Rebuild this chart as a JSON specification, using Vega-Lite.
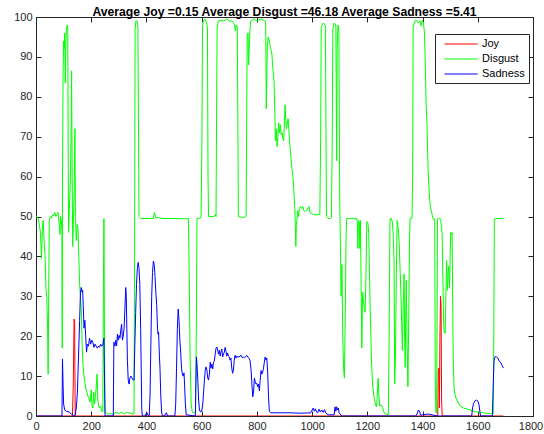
{
  "$schema": "https://vega.github.io/schema/vega-lite/v6.json",
  "width": 497,
  "height": 399,
  "autosize": "none",
  "padding": {"left": 36, "top": 17, "right": 11, "bottom": 18},
  "background": "white",
  "title": {"text": "Average Joy =0.15 Average Disgust =46.18 Average Sadness =5.41", "fontSize": 12.2, "fontWeight": "bold", "font": "Liberation Sans", "color": "#000000", "anchor": "middle", "frame": "group", "offset": -7},
  "config": {
    "view": {"stroke": "#262626", "strokeWidth": 1},
    "axis": {"grid": false, "title": null, "tickSize": -5, "tickColor": "#262626", "domainColor": "#262626", "labelFont": "Liberation Sans", "labelFontSize": 11, "labelColor": "#262626", "format": "d", "labelFlush": false}
  },
  "data": {"values": [
      {"s":"Joy","x":0,"y":0},{"s":"Joy","x":132,"y":0},{"s":"Joy","x":135,"y":8},{"s":"Joy","x":138,"y":24.3},{"s":"Joy","x":140,"y":23},{"s":"Joy","x":142,"y":0},{"s":"Joy","x":1455,"y":0},{"s":"Joy","x":1457,"y":11.5},{"s":"Joy","x":1459,"y":12},{"s":"Joy","x":1461,"y":2},{"s":"Joy","x":1463,"y":20},{"s":"Joy","x":1465,"y":30},{"s":"Joy","x":1467,"y":28},{"s":"Joy","x":1469,"y":4},{"s":"Joy","x":1471,"y":0},{"s":"Joy","x":1693,"y":0},
      {"s":"Disgust","x":0,"y":50},{"s":"Disgust","x":4,"y":50},{"s":"Disgust","x":8,"y":49.5},{"s":"Disgust","x":12,"y":48},{"s":"Disgust","x":16,"y":46},{"s":"Disgust","x":20,"y":39.5},{"s":"Disgust","x":23,"y":47},{"s":"Disgust","x":26,"y":49},{"s":"Disgust","x":30,"y":43},{"s":"Disgust","x":33,"y":40},{"s":"Disgust","x":36,"y":32},{"s":"Disgust","x":39,"y":30},{"s":"Disgust","x":42,"y":22},{"s":"Disgust","x":44,"y":10.5},{"s":"Disgust","x":46,"y":30},{"s":"Disgust","x":48,"y":49},{"s":"Disgust","x":52,"y":50},{"s":"Disgust","x":56,"y":49.6},{"s":"Disgust","x":60,"y":50.5},{"s":"Disgust","x":64,"y":50.2},{"s":"Disgust","x":68,"y":51},{"s":"Disgust","x":72,"y":50},{"s":"Disgust","x":76,"y":50.5},{"s":"Disgust","x":80,"y":51},{"s":"Disgust","x":84,"y":48},{"s":"Disgust","x":87,"y":45.5},{"s":"Disgust","x":89,"y":50},{"s":"Disgust","x":92,"y":49},{"s":"Disgust","x":94,"y":46},{"s":"Disgust","x":95,"y":17},{"s":"Disgust","x":96,"y":60},{"s":"Disgust","x":98,"y":85},{"s":"Disgust","x":100,"y":94},{"s":"Disgust","x":102,"y":92},{"s":"Disgust","x":104,"y":96},{"s":"Disgust","x":106,"y":83.5},{"s":"Disgust","x":108,"y":94},{"s":"Disgust","x":110,"y":96.5},{"s":"Disgust","x":113,"y":98},{"s":"Disgust","x":115,"y":97},{"s":"Disgust","x":117,"y":60},{"s":"Disgust","x":118,"y":46},{"s":"Disgust","x":121,"y":52},{"s":"Disgust","x":124,"y":58},{"s":"Disgust","x":127,"y":70},{"s":"Disgust","x":129,"y":86.5},{"s":"Disgust","x":131,"y":60},{"s":"Disgust","x":133,"y":42.5},{"s":"Disgust","x":135,"y":48},{"s":"Disgust","x":138,"y":55},{"s":"Disgust","x":141,"y":72},{"s":"Disgust","x":143,"y":50},{"s":"Disgust","x":146,"y":44},{"s":"Disgust","x":149,"y":48},{"s":"Disgust","x":152,"y":47},{"s":"Disgust","x":155,"y":40},{"s":"Disgust","x":158,"y":33},{"s":"Disgust","x":161,"y":30},{"s":"Disgust","x":164,"y":27},{"s":"Disgust","x":167,"y":18},{"s":"Disgust","x":170,"y":13},{"s":"Disgust","x":173,"y":10.5},{"s":"Disgust","x":176,"y":9},{"s":"Disgust","x":180,"y":7},{"s":"Disgust","x":184,"y":6},{"s":"Disgust","x":188,"y":5},{"s":"Disgust","x":192,"y":4.5},{"s":"Disgust","x":196,"y":3.5},{"s":"Disgust","x":200,"y":6.5},{"s":"Disgust","x":203,"y":2.5},{"s":"Disgust","x":206,"y":2},{"s":"Disgust","x":209,"y":6},{"s":"Disgust","x":212,"y":3},{"s":"Disgust","x":215,"y":5},{"s":"Disgust","x":218,"y":7},{"s":"Disgust","x":221,"y":10.5},{"s":"Disgust","x":224,"y":4},{"s":"Disgust","x":227,"y":2.5},{"s":"Disgust","x":230,"y":2},{"s":"Disgust","x":234,"y":2.5},{"s":"Disgust","x":238,"y":1.2},{"s":"Disgust","x":242,"y":1},{"s":"Disgust","x":244,"y":30},{"s":"Disgust","x":246,"y":49.5},{"s":"Disgust","x":248,"y":20},{"s":"Disgust","x":250,"y":1},{"s":"Disgust","x":254,"y":0.8},{"s":"Disgust","x":260,"y":0.5},{"s":"Disgust","x":270,"y":0.6},{"s":"Disgust","x":280,"y":0.4},{"s":"Disgust","x":290,"y":1},{"s":"Disgust","x":300,"y":0.6},{"s":"Disgust","x":310,"y":0.9},{"s":"Disgust","x":320,"y":0.5},{"s":"Disgust","x":330,"y":1},{"s":"Disgust","x":340,"y":0.7},{"s":"Disgust","x":350,"y":0.5},{"s":"Disgust","x":355,"y":0.5},{"s":"Disgust","x":357,"y":40},{"s":"Disgust","x":359,"y":97},{"s":"Disgust","x":362,"y":99},{"s":"Disgust","x":366,"y":99},{"s":"Disgust","x":369,"y":97.5},{"s":"Disgust","x":371,"y":75},{"s":"Disgust","x":373,"y":50},{"s":"Disgust","x":380,"y":49.5},{"s":"Disgust","x":400,"y":49.5},{"s":"Disgust","x":425,"y":49.5},{"s":"Disgust","x":429,"y":51},{"s":"Disgust","x":433,"y":49.8},{"s":"Disgust","x":460,"y":49.5},{"s":"Disgust","x":500,"y":49.5},{"s":"Disgust","x":540,"y":49.4},{"s":"Disgust","x":552,"y":49.5},{"s":"Disgust","x":555,"y":35},{"s":"Disgust","x":558,"y":15},{"s":"Disgust","x":562,"y":3},{"s":"Disgust","x":566,"y":1},{"s":"Disgust","x":574,"y":0.8},{"s":"Disgust","x":578,"y":1},{"s":"Disgust","x":581,"y":25},{"s":"Disgust","x":583,"y":49.5},{"s":"Disgust","x":590,"y":49.5},{"s":"Disgust","x":598,"y":49.8},{"s":"Disgust","x":601,"y":70},{"s":"Disgust","x":603,"y":97.5},{"s":"Disgust","x":606,"y":99},{"s":"Disgust","x":612,"y":99.5},{"s":"Disgust","x":618,"y":98.5},{"s":"Disgust","x":621,"y":97},{"s":"Disgust","x":623,"y":60},{"s":"Disgust","x":625,"y":50},{"s":"Disgust","x":635,"y":50},{"s":"Disgust","x":645,"y":50},{"s":"Disgust","x":650,"y":50.5},{"s":"Disgust","x":652,"y":50},{"s":"Disgust","x":654,"y":75},{"s":"Disgust","x":656,"y":97},{"s":"Disgust","x":660,"y":99},{"s":"Disgust","x":670,"y":99.2},{"s":"Disgust","x":680,"y":99},{"s":"Disgust","x":690,"y":99.5},{"s":"Disgust","x":700,"y":99},{"s":"Disgust","x":710,"y":99},{"s":"Disgust","x":715,"y":98.5},{"s":"Disgust","x":719,"y":98},{"s":"Disgust","x":722,"y":96.5},{"s":"Disgust","x":725,"y":98},{"s":"Disgust","x":729,"y":97.5},{"s":"Disgust","x":731,"y":75},{"s":"Disgust","x":733,"y":50},{"s":"Disgust","x":745,"y":49.8},{"s":"Disgust","x":755,"y":49.8},{"s":"Disgust","x":761,"y":50},{"s":"Disgust","x":763,"y":75},{"s":"Disgust","x":765,"y":95.5},{"s":"Disgust","x":768,"y":96},{"s":"Disgust","x":770,"y":88},{"s":"Disgust","x":772,"y":92},{"s":"Disgust","x":775,"y":97},{"s":"Disgust","x":778,"y":99},{"s":"Disgust","x":790,"y":99.5},{"s":"Disgust","x":800,"y":99},{"s":"Disgust","x":815,"y":99.5},{"s":"Disgust","x":830,"y":99},{"s":"Disgust","x":832,"y":98},{"s":"Disgust","x":834,"y":77},{"s":"Disgust","x":836,"y":85},{"s":"Disgust","x":838,"y":93},{"s":"Disgust","x":841,"y":95},{"s":"Disgust","x":845,"y":94},{"s":"Disgust","x":850,"y":92},{"s":"Disgust","x":854,"y":91},{"s":"Disgust","x":858,"y":87},{"s":"Disgust","x":862,"y":84},{"s":"Disgust","x":865,"y":76},{"s":"Disgust","x":867,"y":69},{"s":"Disgust","x":870,"y":72},{"s":"Disgust","x":873,"y":67.5},{"s":"Disgust","x":876,"y":70},{"s":"Disgust","x":879,"y":73.5},{"s":"Disgust","x":882,"y":71},{"s":"Disgust","x":885,"y":73},{"s":"Disgust","x":888,"y":70.5},{"s":"Disgust","x":891,"y":71},{"s":"Disgust","x":894,"y":69.5},{"s":"Disgust","x":897,"y":69},{"s":"Disgust","x":900,"y":74},{"s":"Disgust","x":902,"y":78},{"s":"Disgust","x":905,"y":74},{"s":"Disgust","x":907,"y":72},{"s":"Disgust","x":910,"y":73},{"s":"Disgust","x":913,"y":74.5},{"s":"Disgust","x":916,"y":71.5},{"s":"Disgust","x":919,"y":68},{"s":"Disgust","x":922,"y":66},{"s":"Disgust","x":927,"y":62},{"s":"Disgust","x":932,"y":59},{"s":"Disgust","x":935,"y":55},{"s":"Disgust","x":938,"y":51},{"s":"Disgust","x":940,"y":45},{"s":"Disgust","x":941,"y":42.5},{"s":"Disgust","x":943,"y":48},{"s":"Disgust","x":945,"y":49},{"s":"Disgust","x":948,"y":51.5},{"s":"Disgust","x":951,"y":50},{"s":"Disgust","x":954,"y":52},{"s":"Disgust","x":958,"y":52.5},{"s":"Disgust","x":962,"y":52},{"s":"Disgust","x":966,"y":52.5},{"s":"Disgust","x":970,"y":51.5},{"s":"Disgust","x":974,"y":51.2},{"s":"Disgust","x":978,"y":51.5},{"s":"Disgust","x":982,"y":51.6},{"s":"Disgust","x":986,"y":52.3},{"s":"Disgust","x":989,"y":52.5},{"s":"Disgust","x":992,"y":51},{"s":"Disgust","x":997,"y":50.8},{"s":"Disgust","x":1005,"y":50.5},{"s":"Disgust","x":1015,"y":50.4},{"s":"Disgust","x":1028,"y":50.5},{"s":"Disgust","x":1031,"y":70},{"s":"Disgust","x":1033,"y":97.5},{"s":"Disgust","x":1040,"y":98.5},{"s":"Disgust","x":1048,"y":98},{"s":"Disgust","x":1050,"y":75},{"s":"Disgust","x":1052,"y":50},{"s":"Disgust","x":1058,"y":49.5},{"s":"Disgust","x":1066,"y":49.5},{"s":"Disgust","x":1070,"y":49.8},{"s":"Disgust","x":1073,"y":70},{"s":"Disgust","x":1075,"y":97},{"s":"Disgust","x":1080,"y":98.5},{"s":"Disgust","x":1086,"y":98},{"s":"Disgust","x":1089,"y":64},{"s":"Disgust","x":1091,"y":93},{"s":"Disgust","x":1094,"y":98},{"s":"Disgust","x":1097,"y":96},{"s":"Disgust","x":1100,"y":54},{"s":"Disgust","x":1103,"y":40},{"s":"Disgust","x":1105,"y":30},{"s":"Disgust","x":1108,"y":38},{"s":"Disgust","x":1111,"y":20},{"s":"Disgust","x":1114,"y":12},{"s":"Disgust","x":1117,"y":9.5},{"s":"Disgust","x":1120,"y":25},{"s":"Disgust","x":1123,"y":45},{"s":"Disgust","x":1125,"y":49.5},{"s":"Disgust","x":1135,"y":49.5},{"s":"Disgust","x":1145,"y":49.6},{"s":"Disgust","x":1155,"y":49.4},{"s":"Disgust","x":1162,"y":49.5},{"s":"Disgust","x":1164,"y":48},{"s":"Disgust","x":1166,"y":42},{"s":"Disgust","x":1168,"y":49},{"s":"Disgust","x":1171,"y":48.5},{"s":"Disgust","x":1173,"y":42},{"s":"Disgust","x":1175,"y":49},{"s":"Disgust","x":1178,"y":30},{"s":"Disgust","x":1180,"y":17},{"s":"Disgust","x":1183,"y":31},{"s":"Disgust","x":1186,"y":29},{"s":"Disgust","x":1189,"y":27},{"s":"Disgust","x":1192,"y":26},{"s":"Disgust","x":1195,"y":35},{"s":"Disgust","x":1198,"y":48.7},{"s":"Disgust","x":1202,"y":48.5},{"s":"Disgust","x":1205,"y":46},{"s":"Disgust","x":1208,"y":35},{"s":"Disgust","x":1211,"y":25},{"s":"Disgust","x":1215,"y":14},{"s":"Disgust","x":1219,"y":8},{"s":"Disgust","x":1224,"y":4.8},{"s":"Disgust","x":1229,"y":3},{"s":"Disgust","x":1233,"y":2.3},{"s":"Disgust","x":1236,"y":5},{"s":"Disgust","x":1239,"y":9.5},{"s":"Disgust","x":1242,"y":5},{"s":"Disgust","x":1245,"y":2.5},{"s":"Disgust","x":1250,"y":2.8},{"s":"Disgust","x":1255,"y":2.2},{"s":"Disgust","x":1260,"y":1},{"s":"Disgust","x":1265,"y":0.5},{"s":"Disgust","x":1276,"y":0.3},{"s":"Disgust","x":1279,"y":20},{"s":"Disgust","x":1282,"y":49.4},{"s":"Disgust","x":1287,"y":49.5},{"s":"Disgust","x":1291,"y":48.5},{"s":"Disgust","x":1294,"y":45},{"s":"Disgust","x":1297,"y":38},{"s":"Disgust","x":1299,"y":8},{"s":"Disgust","x":1302,"y":15},{"s":"Disgust","x":1305,"y":35},{"s":"Disgust","x":1308,"y":49},{"s":"Disgust","x":1312,"y":47},{"s":"Disgust","x":1315,"y":44},{"s":"Disgust","x":1318,"y":38},{"s":"Disgust","x":1321,"y":32},{"s":"Disgust","x":1324,"y":24},{"s":"Disgust","x":1327,"y":16.4},{"s":"Disgust","x":1330,"y":28},{"s":"Disgust","x":1333,"y":35.6},{"s":"Disgust","x":1335,"y":20},{"s":"Disgust","x":1337,"y":12.2},{"s":"Disgust","x":1339,"y":25},{"s":"Disgust","x":1341,"y":34},{"s":"Disgust","x":1344,"y":18},{"s":"Disgust","x":1347,"y":7.3},{"s":"Disgust","x":1350,"y":25},{"s":"Disgust","x":1353,"y":45},{"s":"Disgust","x":1355,"y":49.6},{"s":"Disgust","x":1362,"y":49.6},{"s":"Disgust","x":1364,"y":60},{"s":"Disgust","x":1366,"y":97.5},{"s":"Disgust","x":1370,"y":98.5},{"s":"Disgust","x":1375,"y":99.2},{"s":"Disgust","x":1380,"y":99},{"s":"Disgust","x":1385,"y":98.5},{"s":"Disgust","x":1390,"y":99},{"s":"Disgust","x":1395,"y":97.8},{"s":"Disgust","x":1399,"y":99.2},{"s":"Disgust","x":1403,"y":98.5},{"s":"Disgust","x":1407,"y":96},{"s":"Disgust","x":1410,"y":88},{"s":"Disgust","x":1413,"y":78},{"s":"Disgust","x":1416,"y":73},{"s":"Disgust","x":1420,"y":62},{"s":"Disgust","x":1424,"y":56},{"s":"Disgust","x":1428,"y":52.5},{"s":"Disgust","x":1433,"y":51},{"s":"Disgust","x":1438,"y":49.4},{"s":"Disgust","x":1444,"y":49.4},{"s":"Disgust","x":1446,"y":10},{"s":"Disgust","x":1448,"y":1},{"s":"Disgust","x":1451,"y":0.7},{"s":"Disgust","x":1453,"y":30},{"s":"Disgust","x":1454,"y":49.4},{"s":"Disgust","x":1458,"y":49.5},{"s":"Disgust","x":1462,"y":49.6},{"s":"Disgust","x":1466,"y":49},{"s":"Disgust","x":1469,"y":47},{"s":"Disgust","x":1471,"y":45.6},{"s":"Disgust","x":1474,"y":33},{"s":"Disgust","x":1476,"y":24},{"s":"Disgust","x":1478,"y":21},{"s":"Disgust","x":1482,"y":20.7},{"s":"Disgust","x":1485,"y":32},{"s":"Disgust","x":1487,"y":39},{"s":"Disgust","x":1490,"y":31.5},{"s":"Disgust","x":1493,"y":36},{"s":"Disgust","x":1495,"y":37.5},{"s":"Disgust","x":1498,"y":32},{"s":"Disgust","x":1500,"y":40},{"s":"Disgust","x":1502,"y":46},{"s":"Disgust","x":1505,"y":45.5},{"s":"Disgust","x":1507,"y":46},{"s":"Disgust","x":1509,"y":30},{"s":"Disgust","x":1510,"y":20.8},{"s":"Disgust","x":1512,"y":12},{"s":"Disgust","x":1514,"y":7.3},{"s":"Disgust","x":1517,"y":5.5},{"s":"Disgust","x":1521,"y":4.5},{"s":"Disgust","x":1528,"y":3.5},{"s":"Disgust","x":1536,"y":2.5},{"s":"Disgust","x":1548,"y":2},{"s":"Disgust","x":1560,"y":1.8},{"s":"Disgust","x":1572,"y":1.5},{"s":"Disgust","x":1584,"y":1.2},{"s":"Disgust","x":1596,"y":1},{"s":"Disgust","x":1608,"y":0.9},{"s":"Disgust","x":1620,"y":0.8},{"s":"Disgust","x":1632,"y":0.7},{"s":"Disgust","x":1645,"y":0.6},{"s":"Disgust","x":1656,"y":0.6},{"s":"Disgust","x":1658,"y":20},{"s":"Disgust","x":1660,"y":49.4},{"s":"Disgust","x":1670,"y":49.5},{"s":"Disgust","x":1680,"y":49.5},{"s":"Disgust","x":1693,"y":49.6},
      {"s":"Sadness","x":0,"y":0},{"s":"Sadness","x":94,"y":0},{"s":"Sadness","x":96,"y":14.3},{"s":"Sadness","x":98,"y":8},{"s":"Sadness","x":100,"y":3},{"s":"Sadness","x":104,"y":1.5},{"s":"Sadness","x":110,"y":1.2},{"s":"Sadness","x":120,"y":1},{"s":"Sadness","x":128,"y":0.5},{"s":"Sadness","x":134,"y":0.3},{"s":"Sadness","x":138,"y":0},{"s":"Sadness","x":142,"y":0.3},{"s":"Sadness","x":146,"y":2},{"s":"Sadness","x":150,"y":6},{"s":"Sadness","x":154,"y":15},{"s":"Sadness","x":158,"y":24},{"s":"Sadness","x":161,"y":31},{"s":"Sadness","x":164,"y":32.2},{"s":"Sadness","x":167,"y":31},{"s":"Sadness","x":169,"y":31.5},{"s":"Sadness","x":171,"y":28},{"s":"Sadness","x":174,"y":22},{"s":"Sadness","x":177,"y":24},{"s":"Sadness","x":180,"y":20},{"s":"Sadness","x":183,"y":16},{"s":"Sadness","x":186,"y":18},{"s":"Sadness","x":190,"y":17.5},{"s":"Sadness","x":194,"y":19.5},{"s":"Sadness","x":198,"y":18},{"s":"Sadness","x":202,"y":19},{"s":"Sadness","x":206,"y":18.5},{"s":"Sadness","x":210,"y":17.2},{"s":"Sadness","x":214,"y":18},{"s":"Sadness","x":218,"y":17.5},{"s":"Sadness","x":222,"y":17},{"s":"Sadness","x":226,"y":17.5},{"s":"Sadness","x":230,"y":17.2},{"s":"Sadness","x":234,"y":18},{"s":"Sadness","x":238,"y":17.5},{"s":"Sadness","x":242,"y":17.8},{"s":"Sadness","x":246,"y":19.5},{"s":"Sadness","x":248,"y":10},{"s":"Sadness","x":250,"y":0},{"s":"Sadness","x":280,"y":0},{"s":"Sadness","x":282,"y":18.5},{"s":"Sadness","x":286,"y":17.5},{"s":"Sadness","x":289,"y":19},{"s":"Sadness","x":292,"y":17.6},{"s":"Sadness","x":295,"y":20.5},{"s":"Sadness","x":298,"y":19},{"s":"Sadness","x":301,"y":20.2},{"s":"Sadness","x":304,"y":19.5},{"s":"Sadness","x":307,"y":21.5},{"s":"Sadness","x":310,"y":23},{"s":"Sadness","x":313,"y":19},{"s":"Sadness","x":316,"y":20},{"s":"Sadness","x":319,"y":22},{"s":"Sadness","x":322,"y":27},{"s":"Sadness","x":325,"y":32.2},{"s":"Sadness","x":327,"y":30},{"s":"Sadness","x":329,"y":22},{"s":"Sadness","x":331,"y":14},{"s":"Sadness","x":334,"y":9},{"s":"Sadness","x":337,"y":8},{"s":"Sadness","x":340,"y":9.5},{"s":"Sadness","x":344,"y":10},{"s":"Sadness","x":348,"y":9.5},{"s":"Sadness","x":352,"y":9},{"s":"Sadness","x":355,"y":9},{"s":"Sadness","x":358,"y":18},{"s":"Sadness","x":361,"y":26},{"s":"Sadness","x":364,"y":33},{"s":"Sadness","x":367,"y":37},{"s":"Sadness","x":370,"y":38.5},{"s":"Sadness","x":373,"y":37},{"s":"Sadness","x":376,"y":33},{"s":"Sadness","x":379,"y":22},{"s":"Sadness","x":381,"y":12},{"s":"Sadness","x":383,"y":2},{"s":"Sadness","x":385,"y":0},{"s":"Sadness","x":395,"y":0},{"s":"Sadness","x":398,"y":0.5},{"s":"Sadness","x":402,"y":0.8},{"s":"Sadness","x":405,"y":0.3},{"s":"Sadness","x":410,"y":0},{"s":"Sadness","x":413,"y":5},{"s":"Sadness","x":416,"y":18},{"s":"Sadness","x":419,"y":30},{"s":"Sadness","x":422,"y":36},{"s":"Sadness","x":425,"y":38.8},{"s":"Sadness","x":428,"y":38},{"s":"Sadness","x":431,"y":35},{"s":"Sadness","x":434,"y":31},{"s":"Sadness","x":437,"y":28},{"s":"Sadness","x":440,"y":22},{"s":"Sadness","x":442,"y":20.5},{"s":"Sadness","x":444,"y":21},{"s":"Sadness","x":447,"y":15},{"s":"Sadness","x":449,"y":12},{"s":"Sadness","x":452,"y":5},{"s":"Sadness","x":455,"y":1},{"s":"Sadness","x":458,"y":0},{"s":"Sadness","x":466,"y":0},{"s":"Sadness","x":469,"y":0.6},{"s":"Sadness","x":473,"y":0.8},{"s":"Sadness","x":476,"y":0},{"s":"Sadness","x":503,"y":0},{"s":"Sadness","x":506,"y":3},{"s":"Sadness","x":509,"y":12},{"s":"Sadness","x":512,"y":22},{"s":"Sadness","x":515,"y":26.8},{"s":"Sadness","x":518,"y":24},{"s":"Sadness","x":521,"y":19},{"s":"Sadness","x":524,"y":16},{"s":"Sadness","x":527,"y":12},{"s":"Sadness","x":530,"y":10.5},{"s":"Sadness","x":533,"y":10},{"s":"Sadness","x":536,"y":10.8},{"s":"Sadness","x":538,"y":8},{"s":"Sadness","x":541,"y":3},{"s":"Sadness","x":544,"y":0.3},{"s":"Sadness","x":577,"y":0},{"s":"Sadness","x":579,"y":8},{"s":"Sadness","x":581,"y":14.8},{"s":"Sadness","x":583,"y":13},{"s":"Sadness","x":586,"y":9},{"s":"Sadness","x":589,"y":4},{"s":"Sadness","x":592,"y":1.5},{"s":"Sadness","x":596,"y":1},{"s":"Sadness","x":600,"y":1.2},{"s":"Sadness","x":604,"y":3},{"s":"Sadness","x":607,"y":6},{"s":"Sadness","x":610,"y":9},{"s":"Sadness","x":613,"y":11.5},{"s":"Sadness","x":616,"y":12.3},{"s":"Sadness","x":619,"y":11.5},{"s":"Sadness","x":622,"y":9.5},{"s":"Sadness","x":625,"y":9},{"s":"Sadness","x":628,"y":10.5},{"s":"Sadness","x":631,"y":13.5},{"s":"Sadness","x":634,"y":12},{"s":"Sadness","x":637,"y":13},{"s":"Sadness","x":640,"y":11.8},{"s":"Sadness","x":643,"y":13.5},{"s":"Sadness","x":646,"y":13.8},{"s":"Sadness","x":649,"y":15.5},{"s":"Sadness","x":652,"y":17},{"s":"Sadness","x":655,"y":17.3},{"s":"Sadness","x":658,"y":16.5},{"s":"Sadness","x":661,"y":15.5},{"s":"Sadness","x":664,"y":16.5},{"s":"Sadness","x":667,"y":15},{"s":"Sadness","x":670,"y":16},{"s":"Sadness","x":673,"y":16.8},{"s":"Sadness","x":676,"y":14.8},{"s":"Sadness","x":679,"y":15.5},{"s":"Sadness","x":682,"y":16},{"s":"Sadness","x":685,"y":17.2},{"s":"Sadness","x":688,"y":16.2},{"s":"Sadness","x":691,"y":15},{"s":"Sadness","x":694,"y":15.8},{"s":"Sadness","x":697,"y":15},{"s":"Sadness","x":700,"y":14.8},{"s":"Sadness","x":703,"y":14},{"s":"Sadness","x":706,"y":14.5},{"s":"Sadness","x":709,"y":12},{"s":"Sadness","x":712,"y":10.7},{"s":"Sadness","x":715,"y":11.5},{"s":"Sadness","x":718,"y":14},{"s":"Sadness","x":721,"y":15.2},{"s":"Sadness","x":724,"y":14.5},{"s":"Sadness","x":727,"y":15},{"s":"Sadness","x":731,"y":14.8},{"s":"Sadness","x":735,"y":14.8},{"s":"Sadness","x":739,"y":15},{"s":"Sadness","x":743,"y":15.2},{"s":"Sadness","x":747,"y":14.6},{"s":"Sadness","x":751,"y":14.8},{"s":"Sadness","x":755,"y":14.6},{"s":"Sadness","x":759,"y":14.8},{"s":"Sadness","x":763,"y":15.2},{"s":"Sadness","x":767,"y":14.8},{"s":"Sadness","x":771,"y":14.5},{"s":"Sadness","x":775,"y":14},{"s":"Sadness","x":779,"y":11.5},{"s":"Sadness","x":782,"y":8},{"s":"Sadness","x":785,"y":4.8},{"s":"Sadness","x":788,"y":6},{"s":"Sadness","x":791,"y":9.5},{"s":"Sadness","x":794,"y":8.5},{"s":"Sadness","x":797,"y":8},{"s":"Sadness","x":800,"y":8.2},{"s":"Sadness","x":803,"y":7.3},{"s":"Sadness","x":806,"y":8},{"s":"Sadness","x":809,"y":6.3},{"s":"Sadness","x":812,"y":9},{"s":"Sadness","x":815,"y":11.4},{"s":"Sadness","x":818,"y":10.5},{"s":"Sadness","x":821,"y":11},{"s":"Sadness","x":824,"y":12},{"s":"Sadness","x":827,"y":13.5},{"s":"Sadness","x":830,"y":14.8},{"s":"Sadness","x":833,"y":14},{"s":"Sadness","x":836,"y":14.5},{"s":"Sadness","x":839,"y":11},{"s":"Sadness","x":842,"y":5},{"s":"Sadness","x":845,"y":1.2},{"s":"Sadness","x":850,"y":0.8},{"s":"Sadness","x":880,"y":0.8},{"s":"Sadness","x":920,"y":0.8},{"s":"Sadness","x":960,"y":0.7},{"s":"Sadness","x":995,"y":0.8},{"s":"Sadness","x":1000,"y":1.5},{"s":"Sadness","x":1004,"y":2},{"s":"Sadness","x":1008,"y":1.2},{"s":"Sadness","x":1012,"y":1.8},{"s":"Sadness","x":1016,"y":1},{"s":"Sadness","x":1020,"y":0.8},{"s":"Sadness","x":1025,"y":1.7},{"s":"Sadness","x":1030,"y":1},{"s":"Sadness","x":1035,"y":1.5},{"s":"Sadness","x":1040,"y":0.9},{"s":"Sadness","x":1045,"y":1.6},{"s":"Sadness","x":1050,"y":0.7},{"s":"Sadness","x":1058,"y":0.3},{"s":"Sadness","x":1080,"y":0.3},{"s":"Sadness","x":1083,"y":2.3},{"s":"Sadness","x":1086,"y":1.2},{"s":"Sadness","x":1089,"y":2.3},{"s":"Sadness","x":1092,"y":1.5},{"s":"Sadness","x":1095,"y":2},{"s":"Sadness","x":1098,"y":0.8},{"s":"Sadness","x":1105,"y":0.2},{"s":"Sadness","x":1110,"y":0},{"s":"Sadness","x":1375,"y":0},{"s":"Sadness","x":1380,"y":0.5},{"s":"Sadness","x":1385,"y":1.5},{"s":"Sadness","x":1390,"y":1},{"s":"Sadness","x":1393,"y":0.2},{"s":"Sadness","x":1400,"y":0.3},{"s":"Sadness","x":1420,"y":0.5},{"s":"Sadness","x":1440,"y":0.2},{"s":"Sadness","x":1455,"y":0},{"s":"Sadness","x":1578,"y":0},{"s":"Sadness","x":1581,"y":2},{"s":"Sadness","x":1585,"y":3.2},{"s":"Sadness","x":1590,"y":3.8},{"s":"Sadness","x":1595,"y":4},{"s":"Sadness","x":1600,"y":3.8},{"s":"Sadness","x":1604,"y":3},{"s":"Sadness","x":1607,"y":1.5},{"s":"Sadness","x":1610,"y":0},{"s":"Sadness","x":1653,"y":0},{"s":"Sadness","x":1656,"y":8},{"s":"Sadness","x":1659,"y":14},{"s":"Sadness","x":1663,"y":14.9},{"s":"Sadness","x":1668,"y":14.8},{"s":"Sadness","x":1672,"y":14.6},{"s":"Sadness","x":1677,"y":13.8},{"s":"Sadness","x":1682,"y":13.5},{"s":"Sadness","x":1687,"y":12.8},{"s":"Sadness","x":1693,"y":12}
  ]},
  "layer": [
    {
      "transform": [{"filter": "datum.s == 'Joy'"}],
      "mark": {"type": "line", "strokeWidth": 1, "clip": true},
      "encoding": {
        "x": {"field": "x", "type": "quantitative", "scale": {"domain": [0, 1800], "nice": false, "zero": false}, "axis": {"orient": "bottom", "values": [0,200,400,600,800,1000,1200,1400,1600,1800], "labelPadding": 9, "labelOffset": {"condition": {"test": "datum.value == 1800", "value": -2.5}, "value": 0}}},
        "y": {"field": "y", "type": "quantitative", "scale": {"domain": [0, 100], "nice": false}, "axis": {"orient": "left", "values": [0,10,20,30,40,50,60,70,80,90,100], "labelPadding": 9}},
        "color": {"field": "s", "type": "nominal", "scale": {"domain": ["Joy", "Disgust", "Sadness"], "range": ["#ff0000", "#00ff00", "#0000ff"]},
          "legend": {"title": null, "orient": "none", "legendX": 399, "legendY": 17, "symbolType": "M0,0.15H10V0.15", "symbolSize": 44, "symbolStrokeWidth": 1, "labelOffset": 32, "labelFontSize": 11, "labelFont": "Liberation Sans", "labelColor": "#000000", "padding": 4, "rowPadding": 3, "strokeColor": "#262626", "fillColor": "white"}}
      }
    },
    {
      "transform": [{"filter": "datum.s == 'Disgust'"}],
      "mark": {"type": "line", "strokeWidth": 1, "clip": true},
      "encoding": {
        "x": {"field": "x", "type": "quantitative", "axis": {"orient": "top", "values": [0,200,400,600,800,1000,1200,1400,1600,1800], "labels": false, "domain": false}},
        "y": {"field": "y", "type": "quantitative", "axis": {"orient": "right", "values": [0,10,20,30,40,50,60,70,80,90,100], "labels": false, "domain": false}},
        "color": {"field": "s", "type": "nominal"}
      }
    },
    {
      "transform": [{"filter": "datum.s == 'Sadness'"}],
      "mark": {"type": "line", "strokeWidth": 1, "clip": true},
      "encoding": {
        "x": {"field": "x", "type": "quantitative", "axis": null},
        "y": {"field": "y", "type": "quantitative", "axis": null},
        "color": {"field": "s", "type": "nominal"}
      }
    }
  ],
  "resolve": {"axis": {"x": "independent", "y": "independent"}}
}
